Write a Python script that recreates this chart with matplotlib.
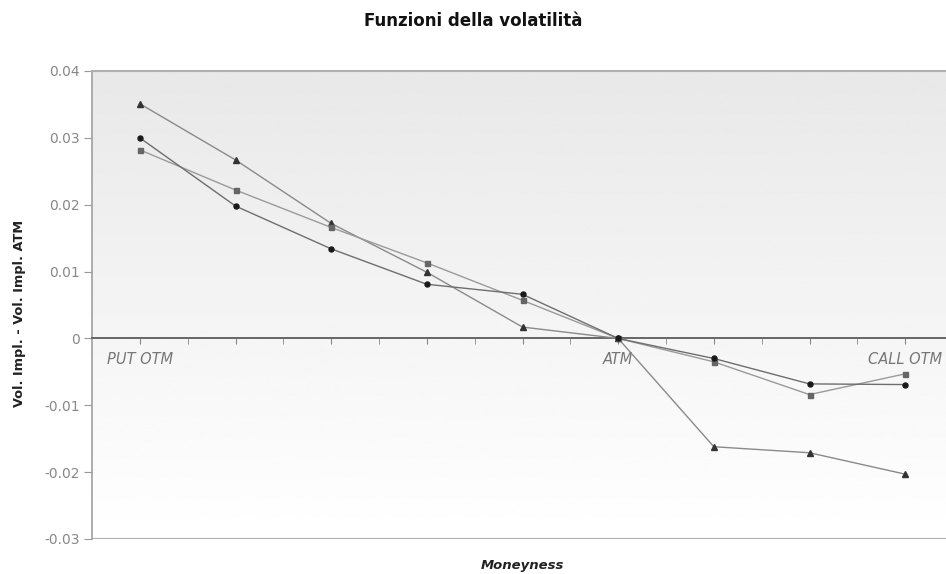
import matplotlib.pyplot as plt
import numpy as np

# moneyness buckets, from deep put OTM to call OTM
positions = [1, 2, 3, 4, 5, 6, 7, 8, 9]
cat_labels = ["PUT OTM", "", "", "", "", "ATM", "", "", "CALL OTM"]

serie_1 = [0.0351, 0.0267, 0.0172, 0.0099, 0.0017, 0.0, -0.0162, -0.0171, -0.0203]
serie_2 = [0.0282, 0.0222, 0.0166, 0.0113, 0.0057, 0.0, -0.0035, -0.0084, -0.0053]
serie_3 = [0.0300, 0.0198, 0.0134, 0.0081, 0.0066, 0.0, -0.0030, -0.0068, -0.0069]

y_ticks = [0.04, 0.03, 0.02, 0.01, 0.0, -0.01, -0.02, -0.03]
y_tick_labels = ["0.04", "0.03", "0.02", "0.01", "0", "-0.01", "-0.02", "-0.03"]

fig = plt.figure(figsize=(9.46, 5.74), dpi=100)
ax = fig.add_axes([92 / 946, 1 - 539 / 574, 861 / 946, 468 / 574])

# soft grey-to-white background
grad = np.linspace(0.91, 1.0, 256).reshape(-1, 1)
ax.imshow(grad, extent=[0, 1, 0, 1], transform=ax.transAxes, cmap="gray",
          vmin=0, vmax=1, aspect="auto", zorder=0)

ax.plot(positions, serie_1, color="#8a8a8a", lw=1.0, marker="^", ms=4,
        mfc="#333333", mec="#333333", zorder=3)
ax.plot(positions, serie_2, color="#9a9a9a", lw=1.0, marker="s", ms=3.6,
        mfc="#666666", mec="#666666", zorder=3)
ax.plot(positions, serie_3, color="#6e6e6e", lw=1.0, marker="o", ms=3.6,
        mfc="#1a1a1a", mec="#1a1a1a", zorder=3)

ax.set_xlim(0.5, 9.5)
ax.set_ylim(-0.03, 0.04)

# category axis sits on the zero line
ax.spines["bottom"].set_position(("data", 0))
ax.spines["bottom"].set_color("#666666")
ax.spines["bottom"].set_linewidth(1.4)
ax.spines["top"].set_color("#b0b0b0")
ax.spines["top"].set_linewidth(1.5)
ax.spines["left"].set_color("#a0a0a0")
ax.spines["left"].set_linewidth(1.2)
ax.spines["right"].set_visible(False)
ax.axhline(-0.03, color="#b0b0b0", lw=1.5, zorder=2)

ax.set_xticks(positions)
ax.set_xticklabels(cat_labels, fontsize=10.5, style="italic", color="#777777")
ax.set_xticks(np.arange(1.5, 9.5, 1.0), minor=True)
ax.tick_params(axis="x", which="both", direction="out", length=4,
               color="#888888", pad=6)

ax.set_yticks(y_ticks)
ax.set_yticklabels(y_tick_labels, fontsize=10, color="#888888")
ax.tick_params(axis="y", direction="out", length=6, color="#999999", pad=3)

fig.text(0.5, 1 - 21 / 574, "Funzioni della volatilità", ha="center",
         va="center", fontsize=12, fontweight="bold", color="#111111")
fig.text(20 / 946, 1 - 313 / 574, "Vol. Impl. - Vol. Impl. ATM", rotation=90,
         ha="center", va="center", fontsize=9.3, fontweight="bold",
         color="#222222")
fig.text(522 / 946, 1 - 565 / 574, "Moneyness", ha="center", va="center",
         fontsize=9.5, fontweight="bold", style="italic", color="#222222")

fig.savefig("out.png", dpi=100)
